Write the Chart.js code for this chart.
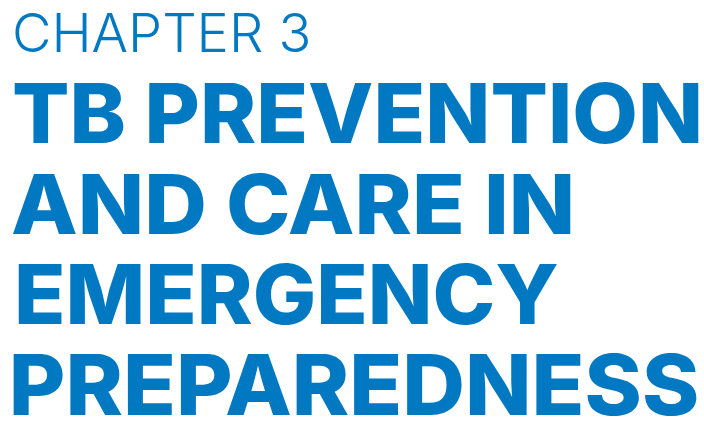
<!DOCTYPE html>
<html>
<head>
<meta charset="utf-8">
<script src="https://cdn.jsdelivr.net/npm/chart.js@4/dist/chart.umd.min.js"></script>
<style>
  html, body { margin: 0; padding: 0; background: #ffffff; }
  #wrap { width: 704px; height: 421px; }
</style>
</head>
<body>
<div id="wrap"><canvas id="chartCanvas"></canvas></div>
<script>
"use strict";

// text content, one entry per line
const lines = ["CHAPTER 3", "TB PREVENTION", "AND CARE IN", "EMERGENCY", "PREPAREDNESS"];
const weights = [300, 800, 800, 800, 800];
const lineIndex = [0, 1, 2, 3, 4];

// layout (pixels): cap height and ink width of each line, left edge
const capHeights = [39, 60, 60, 60, 61];
const inkWidths = [293, 685, 559, 539, 684];
const leftEdges = [15, 14, 12, 18, 13];

const BLUE = "#0079c2";
const FONT = "Inter";

const textPlugin = {
  id: "titleLines",
  afterDatasetsDraw(chart) {
    const { ctx, scales } = chart;
    chart.data.datasets[0].data.forEach((pt, i) => {
      const text = lines[i];
      const w = weights[i];
      ctx.save();
      // measure at 100px then fit
      ctx.font = `${w} 100px ${FONT}`;
      const m = ctx.measureText("H");
      const size = (capHeights[i] / m.actualBoundingBoxAscent) * 100;
      ctx.font = `${w} ${size}px ${FONT}`;
      const mt = ctx.measureText(text);
      const ink = mt.actualBoundingBoxLeft + mt.actualBoundingBoxRight;
      const sx = inkWidths[i] / ink;
      const x = scales.x.getPixelForValue(pt.x) + leftEdges[i];
      const y = scales.y.getPixelForValue(pt.y);
      ctx.translate(x, y);
      ctx.scale(sx, 1);
      ctx.fillStyle = BLUE;
      ctx.textBaseline = "alphabetic";
      ctx.fillText(text, mt.actualBoundingBoxLeft, 0);
      ctx.restore();
    });
  },
};

function draw() {
  const ctx = document.getElementById("chartCanvas").getContext("2d");
  new Chart(ctx, {
    type: "scatter",
    data: {
      datasets: [
        {
          data: lineIndex.map((i) => ({ x: 0, y: i })),
          pointRadius: 0,
          pointHoverRadius: 0,
        },
      ],
    },
    options: {
      responsive: true,
      maintainAspectRatio: false,
      animation: false,
      events: [],
      layout: { padding: 0 },
      plugins: { legend: { display: false }, tooltip: { enabled: false } },
      scales: {
        x: { display: false, min: 0, max: 704 },
        // one unit per text line, baselines ~90.75px apart
        y: { display: false, reverse: true, min: -52 / 90.75, max: (421 - 52) / 90.75 },
      },
    },
    plugins: [textPlugin],
  });
}

Promise.all([
  document.fonts.load(`300 40px ${FONT}`),
  document.fonts.load(`800 80px ${FONT}`),
]).then(draw, draw);
</script>
</body>
</html>
